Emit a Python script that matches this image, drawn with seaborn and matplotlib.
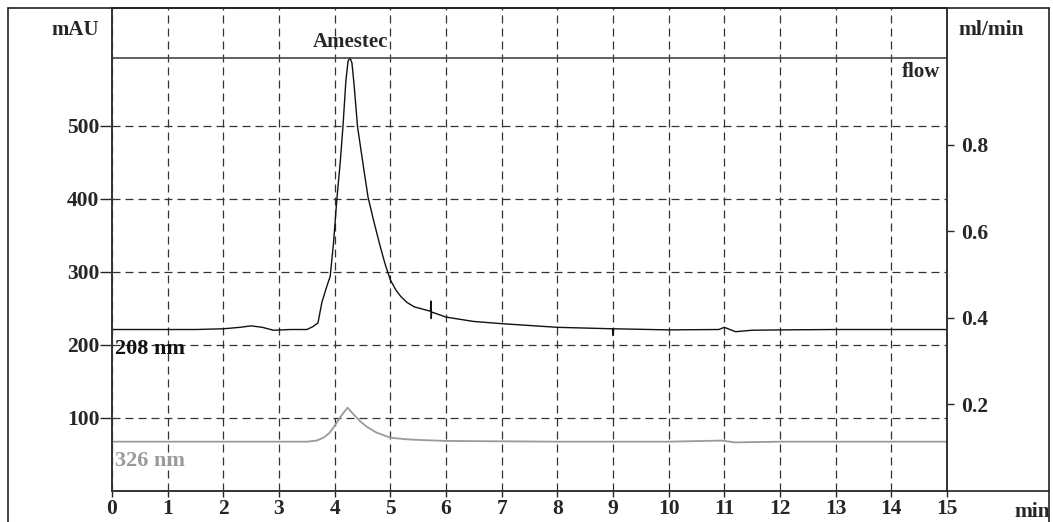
import numpy as np
import pandas as pd
import matplotlib
matplotlib.use("Agg")
from matplotlib import pyplot as plt
from matplotlib.lines import Line2D
import seaborn as sns

# chromatogram, 208 nm trace (min, mAU)
t_208 = [0, 0.5, 1.0, 1.5, 2.0, 2.3, 2.5, 2.7, 2.9, 3.2, 3.5, 3.61, 3.7, 3.77, 3.85,
         3.92, 3.98, 4.04, 4.1, 4.15, 4.2, 4.24, 4.275, 4.31, 4.35, 4.41, 4.47, 4.53,
         4.6, 4.7, 4.8, 4.9, 5.0, 5.1, 5.19, 5.3, 5.43, 5.72, 5.73, 5.735, 5.74, 6.0,
         6.5, 7.0, 8.0, 8.99, 9.0, 9.01, 10.0, 10.9, 11.0, 11.2, 11.5, 12.0, 13.0,
         14.0, 15.0]
v_208 = [221, 221, 221, 221, 222, 224, 226, 224, 220, 221, 221, 225, 230, 258, 278,
         294, 340, 400, 450, 500, 560, 588, 593, 586, 555, 499, 468, 437,
         402, 370, 340, 312, 289, 275, 266, 258, 252, 246, 260, 236, 245, 238,
         232, 229, 224, 222, 213, 222, 220.5, 221, 224, 218, 220, 220.5, 221,
         221, 221]

# 326 nm trace (min, mAU)
t_326 = [0, 1, 2, 3, 3.5, 3.68, 3.8, 3.9, 3.98, 4.1, 4.23, 4.35, 4.45, 4.575, 4.75,
         5.0, 5.25, 5.47, 6.0, 7.0, 8.0, 9.0, 10.0, 10.95, 11.2, 12, 13, 14, 15]
v_326 = [67.5, 67.5, 67.5, 67.5, 67.5, 69, 73, 79, 87, 101, 114, 104, 96, 88, 80,
         73, 71, 70, 68.5, 68, 67.5, 67.5, 67.5, 69, 66.5, 67.5, 67.5, 67.5, 67.5]

# pump flow (min, ml/min)
t_flow = [0, 15]
v_flow = [1.0, 1.0]

x_ticks = list(range(0, 16))
mau_ticks = [100, 200, 300, 400, 500]
flow_ticks = [0.2, 0.4, 0.6, 0.8]

sns.set_style("white")
plt.rcParams['font.family'] = ['Liberation Serif', 'DejaVu Serif']
plt.rcParams['font.weight'] = 'bold'

W, H = 1053, 522
def px(x, y):
    return x / W, 1 - y / H

fig = plt.figure(figsize=(W / 100, H / 100), dpi=100)
ax = fig.add_axes([112 / W, 1 - 491 / H, (947 - 112) / W, (491 - 8) / H])
ax2 = ax.twinx()

ax.grid(True, color='#333333', lw=0.9, ls=(0, (6.4, 4)))
sns.lineplot(x=t_208, y=v_208, ax=ax, color='#111111', lw=1.0, estimator=None, sort=False)
sns.lineplot(x=t_326, y=v_326, ax=ax, color='#9a9a9a', lw=1.3, estimator=None, sort=False)
sns.lineplot(x=t_flow, y=v_flow, ax=ax2, color='#444444', lw=1.2, estimator=None)

ax.set_xlim(0, 15)
ax.set_ylim(0, 661)
ax2.set_ylim(0, 1.116)
ax.set_xticks(x_ticks)
ax.set_yticks(mau_ticks)
ax2.set_yticks(flow_ticks)
ax2.set_yticklabels([f"{v:.1f}" for v in flow_ticks])
ax2.grid(False)

ax.tick_params(axis='y', direction='out', length=9, width=1, pad=0, labelsize=15.5, left=True)
ax.tick_params(axis='x', direction='out', length=4, width=1, pad=2, labelsize=15.5, bottom=True)
ax2.tick_params(axis='y', direction='out', length=5, width=1, pad=5, labelsize=15.5, right=True)

for a in (ax, ax2):
    for s in a.spines.values():
        s.set_color('#333333')
        s.set_linewidth(1.2)
ax.set_xlabel('')
ax.set_ylabel('')
ax2.set_ylabel('')

ax.text(4.28, 614, 'Amestec', ha='center', va='center', fontsize=15)
ax.text(0.06, 194, '208 nm', ha='left', va='center', fontsize=16, color='#111111')
ax.text(0.06, 41, '326 nm', ha='left', va='center', fontsize=16, color='#9a9a9a')
ax2.text(14.87, 0.967, 'flow', ha='right', va='center', fontsize=15)

fig.text(*px(75, 30), 'mAU', ha='center', va='center', fontsize=15)
fig.text(*px(991, 30), 'ml/min', ha='center', va='center', fontsize=15.5)
fig.text(*px(1032, 512), 'min', ha='center', va='center', fontsize=15.5)

# outer frame
for xs, ys in [([8, 8], [8, 530]), ([8, 1049], [8, 8]), ([1049, 1049], [8, 530]),
               ([947, 1049], [491, 491])]:
    fig.add_artist(Line2D([x / W for x in xs], [1 - y / H for y in ys],
                          color='#222222', lw=1.2))

fig.savefig('out.png', dpi=100)
